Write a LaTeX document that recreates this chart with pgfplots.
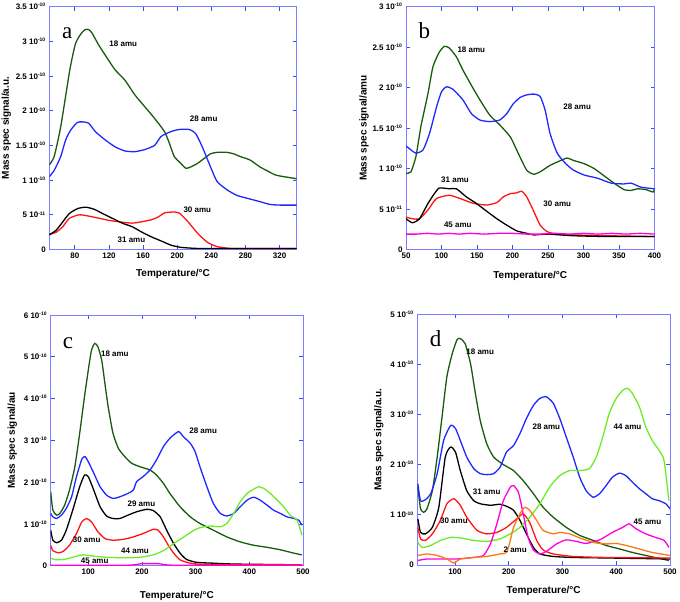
\documentclass[border=0pt]{standalone}
\usepackage{fontspec}
\setmainfont{Liberation Sans}
\newfontfamily\letterfont{Liberation Serif}
\usepackage{pgfplots}
\pgfplotsset{compat=1.18}

\definecolor{frameblue}{RGB}{125,125,255}
\definecolor{tickblue}{RGB}{70,70,255}
\definecolor{cgreen}{RGB}{25,90,15}
\definecolor{cblue}{RGB}{30,40,255}
\definecolor{cred}{RGB}{255,20,20}
\definecolor{clime}{RGB}{110,235,40}
\definecolor{cmag}{RGB}{255,0,220}
\definecolor{corange}{RGB}{255,120,20}

\pgfplotsset{
  panel/.style={
    scale only axis, anchor=south west,
    axis line style={frameblue, line width=0.9pt},
    major tick style={tickblue, line width=0.8pt},
    major tick length=4pt,
    tick align=inside,
    /pgf/number format/assume math mode=true,
    ticklabel style={font=\fontsize{8}{9}\selectfont\bfseries},
    label style={font=\fontsize{10}{11}\selectfont\bfseries},
    xlabel={Temperature/°C},
    ymin=0,
    clip mode=individual,
  },
  crv/.style={line width=1.3pt, smooth, tension=0.35},
}
\tikzset{
  lab/.style={font=\fontsize{8}{9}\selectfont\bfseries, anchor=center},
  pletter/.style={font=\fontsize{23}{24}\selectfont\letterfont, anchor=center},
}
\newcommand{\ex}[1]{ 10\textsuperscript{\fontsize{5}{5}\selectfont #1}}

\begin{document}
\begin{tikzpicture}
\path[use as bounding box] (0pt,0pt) rectangle (680pt,602pt);

% ---------- a ----------
\begin{axis}[panel, at={(49.3pt,352.5pt)}, width=247.4pt, height=242.8pt,
  xmin=50, xmax=340, ymax=3.5,
  xtick={80,120,...,320},
  ytick={0,0.5,1,1.5,2,2.5,3,3.5},
  yticklabels={0,5\ex{-11},1\ex{-10},1.5\ex{-10},2\ex{-10},2.5\ex{-10},3\ex{-10},3.5\ex{-10}},
  ylabel={Mass spec signal/a.u.}, ylabel style={yshift=-2pt}, xlabel style={yshift=-4pt}]
\addplot[crv, cgreen] coordinates {
 (50,1.22) (55.7,1.34) (63.4,1.77) (74.2,2.60) (80.8,2.97) (87.7,3.12) (92.3,3.17)
 (96.2,3.17) (100.1,3.12) (107.8,2.95) (119.4,2.73) (127.1,2.59) (138.7,2.44)
 (150.2,2.23) (161.8,2.06) (173.4,1.89) (185.0,1.70) (190.8,1.53) (196.5,1.34)
 (204.3,1.24) (210.1,1.17) (215.8,1.19) (223.6,1.24) (231.3,1.31) (239.0,1.38)
 (246.7,1.40) (258.3,1.40) (266.0,1.38) (273.7,1.34) (285.3,1.29) (296.9,1.19)
 (304.6,1.14) (316.2,1.07) (340,1.02)};
\addplot[crv, cblue] coordinates {
 (50,1.05) (55.7,1.14) (63.4,1.34) (69.2,1.58) (75.0,1.72) (82.7,1.83) (88.5,1.84)
 (96.2,1.82) (103.9,1.70) (115.5,1.58) (127.1,1.48) (138.7,1.42) (150.2,1.41)
 (161.8,1.44) (173.4,1.50) (181.1,1.63) (192.7,1.70) (202.3,1.73) (213.9,1.73)
 (221.6,1.67) (229.3,1.48) (239.0,1.19) (246.7,0.98) (258.3,0.86) (269.9,0.78)
 (281.4,0.74) (296.9,0.69) (308.4,0.65) (320.0,0.64) (340,0.64)};
\addplot[crv, cred] coordinates {
 (50,0.22) (58.2,0.25) (65.9,0.33) (73.6,0.45) (85.2,0.50) (96.8,0.48) (108.4,0.45)
 (119.9,0.42) (131.5,0.40) (146.9,0.38) (158.5,0.40) (170.1,0.43) (177.8,0.47)
 (185.5,0.53) (197.1,0.54) (202.9,0.52) (212.6,0.40) (224.1,0.23) (235.7,0.10)
 (247.3,0.04) (262.7,0.015) (282.0,0.015) (340,0.015)};
\addplot[crv, black] coordinates {
 (50,0.21) (58.2,0.28) (65.9,0.40) (73.6,0.52) (83.3,0.59) (92.9,0.61) (102.6,0.58)
 (112.2,0.52) (123.8,0.45) (135.4,0.38) (146.9,0.33) (158.5,0.25) (170.1,0.18)
 (181.7,0.12) (193.2,0.06) (204.8,0.03) (224.1,0.015) (262.7,0.015) (340,0.015)};
\node[lab] at (axis cs:136.7,2.97) {18 amu};
\node[lab] at (axis cs:231,1.89) {28 amu};
\node[lab] at (axis cs:223.5,0.58) {30 amu};
\node[lab] at (axis cs:146.3,0.14) {31 amu};
\node[pletter] at (axis cs:71,3.12) {a};
\end{axis}

% ---------- b ----------
\begin{axis}[panel, at={(406pt,352.5pt)}, width=248.5pt, height=242.8pt,
  xmin=50, xmax=400, ymax=3,
  xtick={50,100,...,400},
  ytick={0,0.5,1,1.5,2,2.5,3},
  yticklabels={0,5\ex{-11},1\ex{-10},1.5\ex{-10},2\ex{-10},2.5\ex{-10},3\ex{-10}},
  ylabel={Mass spec signal/amu}, ylabel style={yshift=-3pt}, xlabel style={yshift=-6pt}]
\addplot[crv, cgreen] coordinates {
 (50,0.94) (57,0.96) (64,1.15) (71,1.52) (81,1.93) (88,2.26) (97,2.44) (104,2.51)
 (111,2.49) (121,2.38) (130,2.22) (142,2.03) (154,1.85) (168,1.66) (182,1.54)
 (197,1.39) (208,1.19) (220,0.98) (230,0.93) (239,0.96) (253,1.04) (268,1.10)
 (277,1.13) (286,1.10) (301,1.06) (315,1.00) (329,0.91) (343,0.82) (357,0.74)
 (367,0.73) (376,0.75) (388,0.74) (398,0.71) (400,0.75)};
\addplot[crv, cblue] coordinates {
 (50,1.28) (57,1.23) (64,1.19) (74,1.23) (83,1.43) (93,1.76) (100,1.95) (107,2.01)
 (116,1.98) (130,1.85) (142,1.68) (154,1.60) (168,1.58) (182,1.60) (192,1.68)
 (201,1.80) (211,1.88) (220,1.91) (230,1.92) (239,1.89) (246,1.72) (253,1.43)
 (263,1.19) (275,1.06) (286,0.98) (301,0.92) (320,0.88) (339,0.82) (357,0.81)
 (367,0.82) (381,0.77) (400,0.75)};
\addplot[crv, cred] coordinates {
 (50,0.40) (59,0.38) (69,0.38) (81,0.49) (93,0.63) (111,0.67) (126,0.63) (145,0.57)
 (164,0.55) (178,0.58) (187,0.65) (197,0.69) (206,0.70) (213,0.72) (220,0.65)
 (230,0.47) (239,0.30) (249,0.22) (263,0.19) (286,0.18) (334,0.17) (400,0.16)};
\addplot[crv, black] coordinates {
 (50,0.38) (59,0.33) (69,0.38) (81,0.57) (90,0.69) (97,0.76) (111,0.75) (121,0.75)
 (135,0.65) (149,0.57) (164,0.47) (178,0.38) (192,0.30) (206,0.23) (220,0.20)
 (230,0.18) (249,0.19) (286,0.17) (334,0.16) (400,0.16)};
\addplot[line width=1.3pt, cmag] coordinates {
 (50,0.19) (65,0.19) (80,0.20) (95,0.19) (110,0.20) (125,0.19) (140,0.20) (160,0.19)
 (180,0.20) (200,0.20) (220,0.19) (240,0.19) (260,0.20) (280,0.19) (300,0.20)
 (320,0.19) (340,0.20) (360,0.19) (380,0.20) (400,0.19)};
\node[lab] at (axis cs:142,2.47) {18 amu};
\node[lab] at (axis cs:291,1.76) {28 amu};
\node[lab] at (axis cs:119,0.86) {31 amu};
\node[lab] at (axis cs:263,0.57) {30 amu};
\node[lab] at (axis cs:123,0.30) {45 amu};
\node[pletter] at (axis cs:76,2.71) {b};
\end{axis}

% ---------- c ----------
\begin{axis}[panel, at={(50.7pt,36.3pt)}, width=252.3pt, height=250.7pt,
  xmin=30, xmax=500, ymax=6,
  xtick={100,200,...,500},
  ytick={0,1,...,6},
  yticklabels={0,1\ex{-10},2\ex{-10},3\ex{-10},4\ex{-10},5\ex{-10},6\ex{-10}},
  ylabel={Mass spec signal/au}, xlabel style={yshift=-9pt}]
\addplot[crv, cgreen] coordinates {
 (30,1.77) (34,1.33) (41,1.21) (47,1.25) (56,1.45) (65,1.81) (75,2.37) (84,3.17)
 (93,4.05) (100,4.68) (106,5.16) (112,5.32) (118,5.24) (125,4.92) (131,4.36)
 (137,3.81) (146,3.17) (156,2.81) (168,2.61) (181,2.45) (196,2.37) (215,2.29)
 (227,2.17) (240,1.97) (252,1.73) (271,1.41) (290,1.17) (308,1.01) (333,0.85)
 (358,0.69) (383,0.57) (408,0.49) (433,0.44) (458,0.38) (483,0.30) (498,0.26)};
\addplot[crv, cblue] coordinates {
 (30,1.25) (34,1.17) (41,1.13) (50,1.21) (59,1.37) (69,1.65) (78,2.13) (88,2.55)
 (94,2.61) (100,2.49) (109,2.25) (122,1.89) (134,1.69) (146,1.61) (159,1.65)
 (174,1.73) (184,1.81) (190,2.01) (202,2.13) (215,2.29) (227,2.53) (240,2.85)
 (252,3.05) (268,3.21) (277,3.09) (290,2.93) (299,2.73) (308,2.37) (321,1.89)
 (333,1.49) (346,1.25) (358,1.19) (371,1.25) (383,1.41) (396,1.57) (408,1.64)
 (420,1.57) (433,1.45) (445,1.33) (458,1.25) (470,1.17) (483,1.13) (492,1.09)
 (498,0.97)};
\addplot[crv, black] coordinates {
 (30,0.85) (34,0.61) (41,0.55) (50,0.61) (59,0.85) (72,1.37) (84,1.89) (93,2.17)
 (100,2.13) (109,1.85) (122,1.41) (134,1.19) (146,1.13) (159,1.13) (174,1.21)
 (190,1.29) (209,1.35) (221,1.32) (234,1.17) (246,0.85) (259,0.53) (271,0.30)
 (283,0.15) (302,0.08) (333,0.06) (371,0.04) (433,0.03) (498,0.02)};
\addplot[crv, cred] coordinates {
 (30,0.49) (34,0.36) (44,0.31) (53,0.34) (65,0.49) (78,0.77) (88,1.05) (97,1.13)
 (106,1.05) (118,0.81) (131,0.65) (146,0.61) (165,0.63) (184,0.69) (202,0.77)
 (221,0.87) (230,0.85) (240,0.69) (249,0.49) (259,0.30) (271,0.14) (290,0.06)
 (321,0.03) (498,0.02)};
\addplot[crv, clime] coordinates {
 (30,0.18) (41,0.14) (59,0.16) (78,0.23) (90,0.26) (109,0.23) (134,0.20) (165,0.19)
 (196,0.20) (221,0.26) (240,0.36) (259,0.53) (277,0.68) (296,0.84) (308,0.91)
 (327,0.95) (346,0.93) (358,1.01) (371,1.25) (383,1.53) (396,1.73) (408,1.83)
 (417,1.89) (427,1.85) (439,1.73) (452,1.57) (464,1.41) (476,1.21) (489,1.09)
 (498,0.73)};
\addplot[line width=1.3pt, cmag] coordinates {
 (30,0.01) (170,0.01) (185,0.02) (200,0.05) (230,0.05) (245,0.02) (260,0.01) (500,0.01)};
\node[lab] at (axis cs:149.5,5.08) {18 amu};
\node[lab] at (axis cs:314,3.22) {28 amu};
\node[lab] at (axis cs:199,1.49) {29 amu};
\node[lab] at (axis cs:97,0.63) {30 amu};
\node[lab] at (axis cs:187,0.36) {44 amu};
\node[lab] at (axis cs:112,0.12) {45 amu};
\node[pletter] at (axis cs:62,5.32) {c};
\end{axis}

% ---------- d ----------
\begin{axis}[panel, at={(417.3pt,37pt)}, width=252.7pt, height=251pt,
  xmin=30, xmax=500, ymax=5,
  xtick={100,200,...,500},
  ytick={0,1,...,5},
  yticklabels={0,1\ex{-10},2\ex{-10},3\ex{-10},4\ex{-10},5\ex{-10}},
  ylabel={Mass spec signal/a.u.}, xlabel style={yshift=-5pt}]
\addplot[crv, cgreen] coordinates {
 (31,1.55) (36,1.12) (42,1.05) (48,1.12) (58,1.48) (67,2.15) (76,2.95) (85,3.75)
 (95,4.21) (104,4.49) (110,4.51) (119,4.41) (129,4.01) (138,3.42) (147,2.88)
 (159,2.42) (172,2.15) (190,2.00) (209,1.88) (227,1.68) (246,1.42) (264,1.15)
 (283,0.95) (307,0.75) (332,0.59) (357,0.49) (381,0.39) (406,0.32) (430,0.25)
 (455,0.19) (480,0.13) (498,0.09)};
\addplot[crv, cblue] coordinates {
 (31,1.62) (36,1.28) (45,1.30) (55,1.42) (67,1.82) (79,2.48) (92,2.78) (101,2.72)
 (110,2.48) (122,2.15) (135,1.92) (147,1.82) (159,1.80) (172,1.82) (184,1.95)
 (196,2.25) (209,2.38) (221,2.62) (233,2.92) (246,3.18) (258,3.32) (270,3.35)
 (283,3.22) (295,2.92) (307,2.55) (320,2.15) (332,1.75) (344,1.48) (357,1.35)
 (369,1.42) (381,1.58) (393,1.75) (406,1.83) (418,1.78) (430,1.65) (443,1.52)
 (455,1.42) (467,1.32) (480,1.28) (492,1.22) (500,1.12)};
\addplot[crv, black] coordinates {
 (31,0.92) (36,0.65) (45,0.62) (58,0.75) (70,1.15) (82,2.15) (92,2.35) (101,2.25)
 (110,1.88) (122,1.48) (135,1.28) (147,1.22) (166,1.19) (184,1.21) (196,1.17)
 (209,1.09) (221,0.89) (233,0.62) (246,0.35) (258,0.22) (283,0.17) (320,0.15)
 (381,0.14) (500,0.12)};
\addplot[crv, cred] coordinates {
 (31,0.75) (36,0.52) (45,0.49) (58,0.62) (73,0.89) (85,1.22) (98,1.32) (110,1.19)
 (122,0.95) (141,0.69) (159,0.62) (178,0.65) (196,0.75) (215,0.92) (227,1.02)
 (239,0.85) (252,0.49) (264,0.30) (283,0.22) (320,0.17) (381,0.15) (500,0.14)};
\addplot[crv, clime] coordinates {
 (31,0.45) (39,0.35) (55,0.39) (73,0.49) (92,0.55) (110,0.54) (135,0.49) (159,0.47)
 (184,0.52) (203,0.62) (221,0.75) (239,0.95) (258,1.22) (276,1.55) (295,1.78)
 (313,1.88) (332,1.88) (350,1.92) (363,2.15) (375,2.55) (387,3.02) (400,3.32)
 (412,3.48) (421,3.52) (430,3.42) (443,3.15) (455,2.75) (467,2.48) (480,2.28)
 (489,2.08) (498,1.28)};
\addplot[crv, cmag] coordinates {
 (31,0.09) (48,0.12) (73,0.12) (104,0.12) (135,0.15) (153,0.19) (166,0.42)
 (178,0.82) (190,1.28) (203,1.55) (209,1.58) (218,1.45) (227,1.02) (236,0.55)
 (246,0.30) (258,0.22) (270,0.27) (289,0.42) (307,0.50) (326,0.47) (344,0.43)
 (369,0.50) (393,0.65) (412,0.75) (424,0.82) (437,0.72) (455,0.62) (473,0.55)
 (489,0.49) (498,0.35)};
\addplot[crv, corange] coordinates {
 (31,0.19) (48,0.22) (67,0.19) (85,0.12) (98,0.04) (110,0.12) (135,0.15) (159,0.17)
 (184,0.22) (196,0.25) (203,0.49) (209,0.75) (221,1.02) (230,1.15) (239,1.09)
 (252,0.89) (264,0.69) (283,0.62) (295,0.65) (313,0.62) (332,0.54) (357,0.45)
 (381,0.42) (400,0.43) (418,0.39) (443,0.32) (467,0.25) (500,0.19)};
\node[lab] at (axis cs:147,4.25) {18 amu};
\node[lab] at (axis cs:270,2.75) {28 amu};
\node[lab] at (axis cs:421,2.75) {44 amu};
\node[lab] at (axis cs:159,1.46) {31 amu};
\node[lab] at (axis cs:98,0.89) {30 amu};
\node[lab] at (axis cs:458,0.87) {45 amu};
\node[lab] at (axis cs:212,0.30) {2 amu};
\node[pletter] at (axis cs:64,4.51) {d};
\end{axis}
\end{tikzpicture}
\end{document}
